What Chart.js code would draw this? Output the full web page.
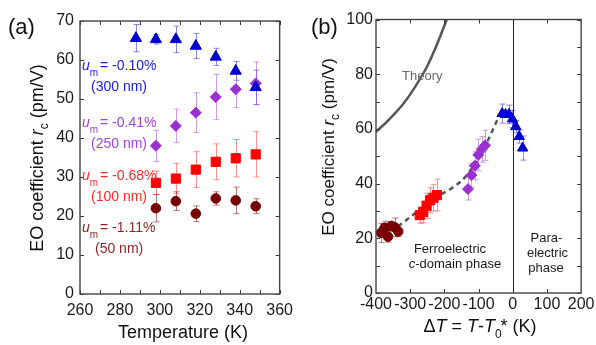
<!DOCTYPE html>
<html><head><meta charset="utf-8">
<script src="https://cdn.jsdelivr.net/npm/chart.js@4"></script>
<style>
html,body{margin:0;padding:0;background:#fff}
#wrap{position:relative;width:596px;height:345px;overflow:hidden;background:#fff}
canvas{position:absolute;top:0}
</style>
</head><body>
<div id="wrap">
<canvas id="ca" width="300" height="345" style="left:0"></canvas>
<canvas id="cb" width="296" height="345" style="left:300px"></canvas>
</div>
<script>
// ---------- data ----------
const tempBlue   = [288, 298, 308, 318, 328, 338, 348];
const tempOther  = [298, 308, 318, 328, 338, 348];
const blueVal    = [65.6, 65.3, 65.3, 63.6, 60.8, 57.2, 53.0];
const blueErr    = [3.5, 1.2, 3.4, 3.2, 2.2, 2.4, 4.4];
const purpleVal  = [38.0, 43.1, 46.5, 50.5, 52.5, 54.0];
const purpleErr  = [4.0, 4.3, 5.1, 5.8, 4.7, 5.5];
const redVal     = [28.5, 29.6, 31.9, 33.9, 34.8, 35.8];
const redErr     = [3.0, 3.9, 4.6, 4.6, 4.8, 5.8];
const darkVal    = [22.0, 23.8, 20.6, 24.5, 24.0, 22.5];
const darkErr    = [3.5, 2.4, 2.0, 1.7, 3.4, 1.9];
const blueDT     = [-31, -21, -11, -1, 9, 19, 29];
const purpleDT   = [-131, -121, -111, -101, -91, -81];
const redDT      = [-272, -262, -252, -242, -232, -222];
const darkDT     = [-385, -375, -365, -355, -345, -335];
const theoryDT   = [-400, -359, -320, -286, -250, -223, -193];
const theoryVal  = [58.9, 63.8, 69.2, 75.3, 83.0, 90.5, 100];
const fitDT      = [-360, -335, -300, -272, -240, -213, -180, -150, -131, -100, -77, -48, -38];
const fitVal     = [23.0, 24.5, 27.8, 30.5, 33.5, 35.8, 38.2, 41.0, 43.7, 49.0, 54.6, 62.5, 65.0];
const xTicksA    = [260, 280, 300, 320, 340, 360];
const yTicksA    = [0, 10, 20, 30, 40, 50, 60, 70];
const xTicksB    = [-400, -300, -200, -100, 0, 100, 200];
const yTicksB    = [0, 20, 40, 60, 80, 100];

const FONT = '"Liberation Sans", Arial, Helvetica, sans-serif';
const COL = {
  blue:'#0000cc', blueE:'rgba(60,60,220,0.6)', blueT:'#1a1ae6',
  purple:'#9b30d0', purpleE:'rgba(170,80,220,0.55)', purpleT:'#a444e0',
  red:'#ff0000', redE:'rgba(255,60,60,0.55)', redT:'#ff2a2a',
  dark:'#780000', darkE:'rgba(140,30,30,0.6)', darkT:'#8e2626'
};
const pairs = (xs, ys) => xs.map((x, i) => ({x, y: ys[i]}));

// ---------- rich text ----------
function fnt(p){ return (p.i ? 'italic ' : '') + (p.s || 14) + 'px ' + FONT; }
function drawRich(ctx, parts, x, y, align, color){
  ctx.save();
  ctx.fillStyle = color; ctx.textBaseline = 'alphabetic'; ctx.textAlign = 'left';
  const ws = []; let total = 0;
  parts.forEach(p => { ctx.font = fnt(p); const w = ctx.measureText(p.t).width; ws.push(w); total += w + (p.dx || 0); });
  let cx = align === 'center' ? x - total / 2 : (align === 'right' ? x - total : x);
  parts.forEach((p, i) => { ctx.font = fnt(p); cx += (p.dx || 0); ctx.fillText(p.t, cx, y + (p.dy || 0)); cx += ws[i]; });
  ctx.restore();
}

// ---------- plugin ----------
const deco = {
  id: 'deco',
  beforeDatasetsDraw(chart){
    const ctx = chart.ctx, xs = chart.scales.x, ys = chart.scales.y;
    ctx.save();
    ctx.beginPath();
    ctx.rect(chart.chartArea.left, chart.chartArea.top, chart.chartArea.right - chart.chartArea.left, chart.chartArea.bottom - chart.chartArea.top);
    ctx.clip();
    chart.data.datasets.forEach(ds => {
      if (!ds.err) return;
      ctx.strokeStyle = ds.errColor; ctx.lineWidth = 1;
      ds.data.forEach((pt, i) => {
        const px = Math.round(xs.getPixelForValue(pt.x)) + 0.5;
        const y1 = ys.getPixelForValue(pt.y + ds.err[i]);
        const y2 = ys.getPixelForValue(pt.y - ds.err[i]);
        ctx.beginPath();
        ctx.moveTo(px, y1); ctx.lineTo(px, y2);
        ctx.moveTo(px - 3, y1); ctx.lineTo(px + 3, y1);
        ctx.moveTo(px - 3, y2); ctx.lineTo(px + 3, y2);
        ctx.stroke();
      });
    });
    ctx.restore();
  },
  afterDraw(chart){
    const o = chart.options.plugins.deco;
    const ctx = chart.ctx, a = chart.chartArea, xs = chart.scales.x, ys = chart.scales.y;
    ctx.save();
    ctx.strokeStyle = '#3a3a3a'; ctx.lineWidth = 1;
    ctx.beginPath();
    o.xMinor.forEach(v => {
      const px = Math.round(xs.getPixelForValue(v)) + 0.5;
      ctx.moveTo(px, a.bottom); ctx.lineTo(px, a.bottom - o.tl);
      ctx.moveTo(px, a.top); ctx.lineTo(px, a.top + o.tl);
    });
    o.yMinor.forEach(v => {
      const py = Math.round(ys.getPixelForValue(v)) + 0.5;
      ctx.moveTo(a.left, py); ctx.lineTo(a.left + o.tl, py);
      ctx.moveTo(a.right, py); ctx.lineTo(a.right - o.tl, py);
    });
    ctx.stroke();
    if (o.zeroLine) {
      const px = Math.round(xs.getPixelForValue(0)) + 0.5;
      ctx.strokeStyle = '#222'; ctx.lineWidth = 1;
      ctx.beginPath(); ctx.moveTo(px, a.top); ctx.lineTo(px, a.bottom); ctx.stroke();
    }
    ctx.strokeStyle = '#444'; ctx.lineWidth = 1.4;
    ctx.strokeRect(a.left, a.top, a.right - a.left, a.bottom - a.top);
    ctx.restore();
    o.texts.forEach(t => {
      if (t.rot) {
        ctx.save(); ctx.translate(t.x, t.y); ctx.rotate(-Math.PI / 2);
        drawRich(ctx, t.parts, 0, 0, 'center', t.c);
        ctx.restore();
      } else drawRich(ctx, t.parts, t.x, t.y, t.align || 'left', t.c);
    });
  }
};

function makeOpts(cfg){
  return {
    responsive: false, animation: false, devicePixelRatio: 1,
    layout: { padding: cfg.pad },
    plugins: { legend: { display: false }, tooltip: { enabled: false }, deco: cfg.deco },
    scales: {
      x: { type: 'linear', min: cfg.xr[0], max: cfg.xr[1],
        afterBuildTicks(s){ s.ticks = cfg.xt.map(v => ({value: v})); },
        ticks: { autoSkip: false, maxRotation: 0, minRotation: 0, padding: cfg.xpad, color: '#1a1a1a', font: { family: FONT, size: 16 } },
        grid: { display: false, drawTicks: false }, border: { display: false },
        afterFit(s){ s.height = cfg.xh; } },
      y: { type: 'linear', min: cfg.yr[0], max: cfg.yr[1],
        afterBuildTicks(s){ s.ticks = cfg.yt.map(v => ({value: v})); },
        ticks: { padding: cfg.ypad, color: '#1a1a1a', font: { family: FONT, size: 16 } },
        grid: { display: false, drawTicks: false }, border: { display: false },
        afterFit(s){ s.width = cfg.yw; } }
    }
  };
}
function range(a, b, s){ const r = []; for (let v = a; v <= b + 1e-9; v += s) r.push(v); return r; }

const um = (val, x, y, c) => ({ x, y, c, parts: [
  { t: 'u', i: true, s: 14 }, { t: 'm', s: 10, dy: 6, dx: 0 }, { t: ' = ' + val, s: 14, dx: -2 } ] });

// ---------- chart (a) ----------
new Chart(document.getElementById('ca'), {
  type: 'scatter',
  data: { datasets: [
    { data: pairs(tempBlue, blueVal), err: blueErr, errColor: COL.blueE, pointStyle: 'triangle', radius: 6.5, backgroundColor: COL.blue, borderColor: COL.blue, borderWidth: 1 },
    { data: pairs(tempOther, purpleVal), err: purpleErr, errColor: COL.purpleE, pointStyle: 'rectRot', radius: 5.5, backgroundColor: COL.purple, borderColor: COL.purple, borderWidth: 1 },
    { data: pairs(tempOther, redVal), err: redErr, errColor: COL.redE, pointStyle: 'rect', radius: 6.5, backgroundColor: COL.red, borderColor: COL.red, borderWidth: 1 },
    { data: pairs(tempOther, darkVal), err: darkErr, errColor: COL.darkE, pointStyle: 'circle', radius: 4.8, backgroundColor: COL.dark, borderColor: COL.dark, borderWidth: 1 }
  ]},
  options: makeOpts({
    pad: { left: 0, top: 21, right: 14, bottom: 0 },
    xr: [260, 360], yr: [0, 70], xt: xTicksA, yt: yTicksA,
    xh: 51, yw: 80, xpad: 7, ypad: 6,
    deco: { tl: 4, xMinor: range(260, 360, 10), yMinor: range(0, 70, 10), zeroLine: false,
      texts: [
        { x: 8, y: 34, c: '#111', parts: [{ t: '(a)', s: 22 }] },
        { x: 183, y: 338, align: 'center', c: '#111', parts: [{ t: 'Temperature (K)', s: 18 }] },
        { x: 43, y: 158, rot: true, c: '#111', parts: [{ t: 'EO coefficient ', s: 18 }, { t: 'r', s: 18, i: true }, { t: 'c', s: 12, dy: 5 }, { t: ' (pm/V)', s: 18 }] },
        um('-0.10%', 82, 70, COL.blueT),
        { x: 91, y: 91, c: COL.blueT, parts: [{ t: '(300 nm)', s: 14 }] },
        um('-0.41%', 82, 126.5, COL.purpleT),
        { x: 91, y: 147.5, c: COL.purpleT, parts: [{ t: '(250 nm)', s: 14 }] },
        um('-0.68%', 82, 180, COL.redT),
        { x: 91, y: 201, c: COL.redT, parts: [{ t: '(100 nm)', s: 14 }] },
        um('-1.11%', 82, 231.5, COL.darkT),
        { x: 95, y: 252.5, c: COL.darkT, parts: [{ t: '(50 nm)', s: 14 }] }
      ] }
  }),
  plugins: [deco]
});

// ---------- chart (b) ----------
new Chart(document.getElementById('cb'), {
  type: 'scatter',
  data: { datasets: [
    { data: pairs(blueDT, blueVal), err: blueErr, errColor: COL.blueE, pointStyle: 'triangle', radius: 6, backgroundColor: COL.blue, borderColor: COL.blue, borderWidth: 1 },
    { data: pairs(purpleDT, purpleVal), err: purpleErr, errColor: COL.purpleE, pointStyle: 'rectRot', radius: 5.5, backgroundColor: COL.purple, borderColor: COL.purple, borderWidth: 1 },
    { data: pairs(redDT, redVal), err: redErr, errColor: COL.redE, pointStyle: 'rect', radius: 6.5, backgroundColor: COL.red, borderColor: COL.red, borderWidth: 1 },
    { data: pairs(darkDT, darkVal), err: darkErr, errColor: COL.darkE, pointStyle: 'circle', radius: 4.8, backgroundColor: COL.dark, borderColor: COL.dark, borderWidth: 1 },
    { type: 'line', data: pairs(fitDT, fitVal), showLine: true, borderColor: '#555', borderWidth: 2.5, borderDash: [5, 4], pointRadius: 0, cubicInterpolationMode: 'monotone', fill: false },
    { type: 'line', data: pairs(theoryDT, theoryVal), showLine: true, borderColor: '#555', borderWidth: 2.5, pointRadius: 0, cubicInterpolationMode: 'monotone', fill: false }
  ]},
  options: makeOpts({
    pad: { left: 0, top: 19.5, right: 14, bottom: 0 },
    xr: [-400, 200], yr: [0, 100], xt: xTicksB, yt: yTicksB,
    xh: 52, yw: 76, xpad: 1.5, ypad: 3,
    deco: { tl: 4, xMinor: [-300, -200, -100, 100], yMinor: range(0, 100, 10), zeroLine: true,
      texts: [
        { x: 11, y: 34, c: '#111', parts: [{ t: '(b)', s: 22 }] },
        { x: 180, y: 332, align: 'center', c: '#111', parts: [{ t: '\u0394', s: 18 }, { t: 'T', s: 18, i: true }, { t: ' = ', s: 18 }, { t: 'T', s: 18, i: true }, { t: '-', s: 18 }, { t: 'T', s: 18, i: true }, { t: '0', s: 12, dy: 6 }, { t: '*', s: 18, dx: -1 }, { t: ' (K)', s: 18 }] },
        { x: 34, y: 147, rot: true, c: '#111', parts: [{ t: 'EO coefficient ', s: 17 }, { t: 'r', s: 17, i: true }, { t: 'c', s: 12, dy: 5 }, { t: ' (pm/V)', s: 17 }] },
        { x: 102, y: 80, c: '#6a6a6a', parts: [{ t: 'Theory', s: 13 }] },
        { x: 150, y: 253, align: 'center', c: '#1a1a1a', parts: [{ t: 'Ferroelectric', s: 13 }] },
        { x: 155, y: 268, align: 'center', c: '#1a1a1a', parts: [{ t: 'c', s: 13, i: true }, { t: '-domain phase', s: 13 }] },
        { x: 246.5, y: 242, align: 'center', c: '#1a1a1a', parts: [{ t: 'Para-', s: 13 }] },
        { x: 247.5, y: 257, align: 'center', c: '#1a1a1a', parts: [{ t: 'electric', s: 13 }] },
        { x: 246, y: 272, align: 'center', c: '#1a1a1a', parts: [{ t: 'phase', s: 13 }] }
      ] }
  }),
  plugins: [deco]
});
</script>
</body></html>
